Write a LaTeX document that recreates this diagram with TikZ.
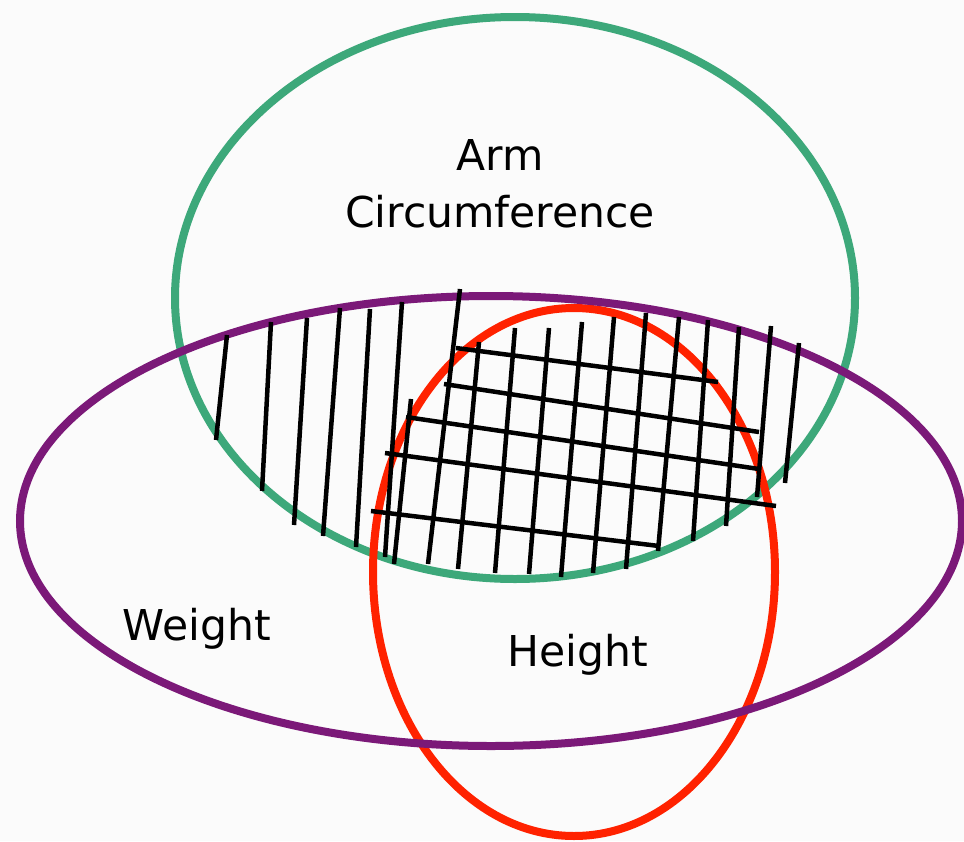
\documentclass[tikz,border=0pt]{standalone}
\usepackage{fontspec}
\newfontfamily\lblfont{DejaVu Sans}
\definecolor{bgc}{RGB}{251,251,251}
\definecolor{armc}{RGB}{61,168,122}
\definecolor{wtc}{RGB}{123,25,120}
\definecolor{htc}{RGB}{255,34,0}
\tikzset{
  ring/.style={line width=8pt},
  hatch/.style={line width=4.5pt, black},
  lbl/.style={font=\lblfont\fontsize{42.5}{50}\selectfont, anchor=base, inner sep=0pt}
}
\begin{document}
\begin{tikzpicture}[x=1pt,y=-1pt]
\fill[bgc] (0,0) rectangle (964,841);
\useasboundingbox (0,0) rectangle (964,841);
% ellipses
\draw[ring, armc] (515,298) ellipse [x radius=340, y radius=281];
\draw[ring, htc] (574,572) ellipse [x radius=201, y radius=264];
\draw[ring, wtc] (491,521) ellipse [x radius=471, y radius=225];
% vertical hatching
\foreach \xa/\ya/\xb/\yb in {
  227/335/216/440, 271/322/262/491, 307/318/294/525, 340/308/323/536,
  370/309/356/547, 402/302/385/557, 411/399/394/564, 460/289/428/564,
  479/342/458/569, 515/328/495/573, 549/328/529/574, 582/322/561/577,
  614/317/593/573, 646/313/626/569, 679/317/658/551, 708/320/693/541,
  739/327/726/526, 771/326/757/497, 799/343/785/483}
  \draw[hatch] (\xa,\ya) -- (\xb,\yb);
% horizontal hatching
\foreach \xa/\ya/\xb/\yb in {
  456/348/718/382, 444/384/759/432, 406/417/759/469,
  385/453/776/506, 371/511/659/546}
  \draw[hatch] (\xa,\ya) -- (\xb,\yb);
% labels
\node[lbl] (arm) at (500,170) {Arm};
\node[lbl] (circ) at (500,227) {Circumference};
\node[lbl] (weight) at (197,640) {Weight};
\node[lbl] (height) at (578,666) {Height};
\end{tikzpicture}
\end{document}
